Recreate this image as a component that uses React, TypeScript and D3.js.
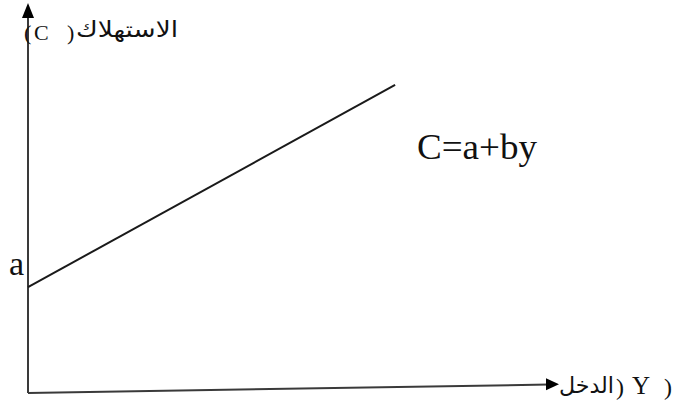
import React from "react";
import * as d3 from "d3";

// Data (income Y -> consumption C)
const incomeValues = [0, 6.94];
const consumptionValues = [2.76, 8.08];
const interceptLabel = "a";
const equationLabel = "C=a+by";
const yAxisArabic = "الاستهلاك";
const yAxisLatin = ["(", "C", ")"];
const xAxisArabic = "الدخل";
const xAxisLatin = [")", "Y", ")"];

const W = 677;
const H = 407;

export default function App() {
  const x = d3.scaleLinear().domain([0, 10]).range([28, 557]);
  const y = d3.scaleLinear().domain([0, 10]).range([392, 12]);
  const pts: [number, number][] = incomeValues.map((v, i) => [v, consumptionValues[i]]);
  const line = d3
    .line<[number, number]>()
    .x((d) => x(d[0]))
    .y((d) => y(d[1]));

  const x0 = x(0);
  const serif = "'Liberation Serif', 'Times New Roman', serif";
  const arabic = "'DejaVu Sans', sans-serif";
  const ltr = { direction: "ltr" as const, unicodeBidi: "bidi-override" as const };

  return (
    <svg
      width={W}
      height={H}
      viewBox={`0 0 ${W} ${H}`}
      style={{ position: "absolute", left: 0, top: 0, background: "#fff", direction: "ltr" }}
    >
      {/* y axis */}
      <line x1={x0} y1={393} x2={x0} y2={14} stroke="#3a3a3a" strokeWidth={2} />
      <polygon points={`${x0},3 ${x0 - 6},18 ${x0 + 6},18`} fill="#000" />
      {/* x axis (slightly tilted as in the reference scan) */}
      <line x1={x0} y1={393} x2={549} y2={384.5} stroke="#3a3a3a" strokeWidth={2} />
      <polygon points={`559,384.3 546,378.3 546,390.3`} fill="#000" />

      {/* consumption line */}
      <path d={line(pts) || ""} fill="none" stroke="#1a1a1a" strokeWidth={2} />

      {/* intercept label */}
      <text x={9} y={275} fontFamily={serif} fontSize={34} fill="#111">
        {interceptLabel}
      </text>

      {/* equation */}
      <text x={417} y={159} fontFamily={serif} fontSize={35} fill="#111" textLength={120} lengthAdjust="spacingAndGlyphs">
        {equationLabel}
      </text>

      {/* y axis label */}
      <text x={24} y={40} fontFamily={serif} fontSize={22} fill="#111" style={ltr}>{yAxisLatin[0]}</text>
      <text x={34} y={40} fontFamily={serif} fontSize={22} fill="#111" style={ltr}>{yAxisLatin[1]}</text>
      <text x={67} y={40} fontFamily={serif} fontSize={22} fill="#111" style={ltr}>{yAxisLatin[2]}</text>
      <text x={76} y={37} fontFamily={arabic} fontSize={22} fill="#111" textLength={102} lengthAdjust="spacingAndGlyphs">
        {yAxisArabic}
      </text>

      {/* x axis label */}
      <text x={559} y={393} fontFamily={arabic} fontSize={22} fill="#111" textLength={55} lengthAdjust="spacingAndGlyphs">
        {xAxisArabic}
      </text>
      <text x={616} y={395} fontFamily={serif} fontSize={24} fill="#111" style={ltr}>{xAxisLatin[0]}</text>
      <text x={632} y={394} fontFamily={serif} fontSize={25} fill="#111" style={ltr}>{xAxisLatin[1]}</text>
      <text x={664} y={395} fontFamily={serif} fontSize={24} fill="#111" style={ltr}>{xAxisLatin[2]}</text>
    </svg>
  );
}
